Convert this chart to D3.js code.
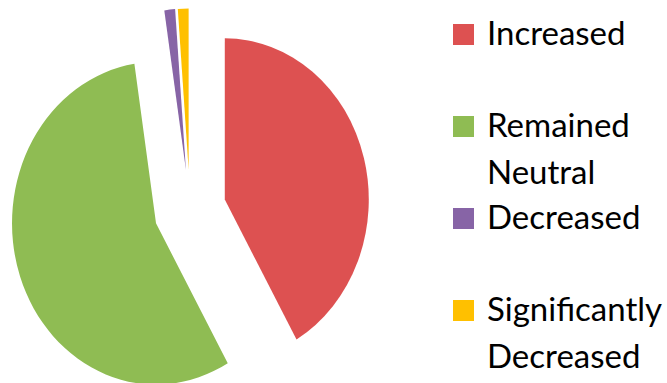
<!DOCTYPE html>
<html>
<head>
<meta charset="utf-8">
<script src="https://cdn.jsdelivr.net/npm/d3@7"></script>
<style>
  html, body { margin: 0; padding: 0; background: #fff; }
  svg { display: block; }
</style>
</head>
<body>
<svg id="chart" width="667" height="383"></svg>
<script>
// Data
const categories = ["Increased", "Remained Neutral", "Decreased", "Significantly Decreased"];
const values = [41.7, 55.9, 1.2, 1.2];
const colors = ["#DD5151", "#8FBC53", "#8764A6", "#FFC000"];

const svg = d3.select("#chart");
const W = 667, H = 383;

// Pie geometry (the source chart is slightly stretched vertically)
const cx = 190, cy = 210, radius = 144, yStretch = 1.12, explode = 36;

const pie = d3.pie().sort(null).value(d => d.value);
const arc = d3.arc().innerRadius(0).outerRadius(radius);
const data = categories.map((c, i) => ({ name: c, value: values[i], color: colors[i] }));

const g = svg.append("g")
  .attr("transform", `translate(${cx},${cy}) scale(1,${yStretch})`);

g.selectAll("path")
  .data(pie(data))
  .join("path")
  .attr("d", arc)
  .attr("fill", d => d.data.color)
  .attr("transform", d => {
    const mid = (d.startAngle + d.endAngle) / 2;
    return `translate(${Math.sin(mid) * explode},${-Math.cos(mid) * explode})`;
  });

// Legend
const legendX = 453, firstBaseline = 45, rowStep = 92, lineStep = 47, sq = 21;
const legend = svg.append("g");
data.forEach((d, i) => {
  const base = firstBaseline + i * rowStep;
  legend.append("rect")
    .attr("x", legendX).attr("y", base - sq)
    .attr("width", sq).attr("height", sq)
    .attr("fill", d.color);
  const t = legend.append("text")
    .attr("x", legendX + 34).attr("y", base)
    .attr("font-family", "Lato, 'Open Sans', sans-serif")
    .attr("font-size", 33)
    .attr("fill", "#000");
  d.name.split(" ").forEach((w, j) => {
    t.append("tspan")
      .attr("x", legendX + 34)
      .attr("y", base + j * lineStep)
      .text(w);
  });
});
</script>
</body>
</html>
